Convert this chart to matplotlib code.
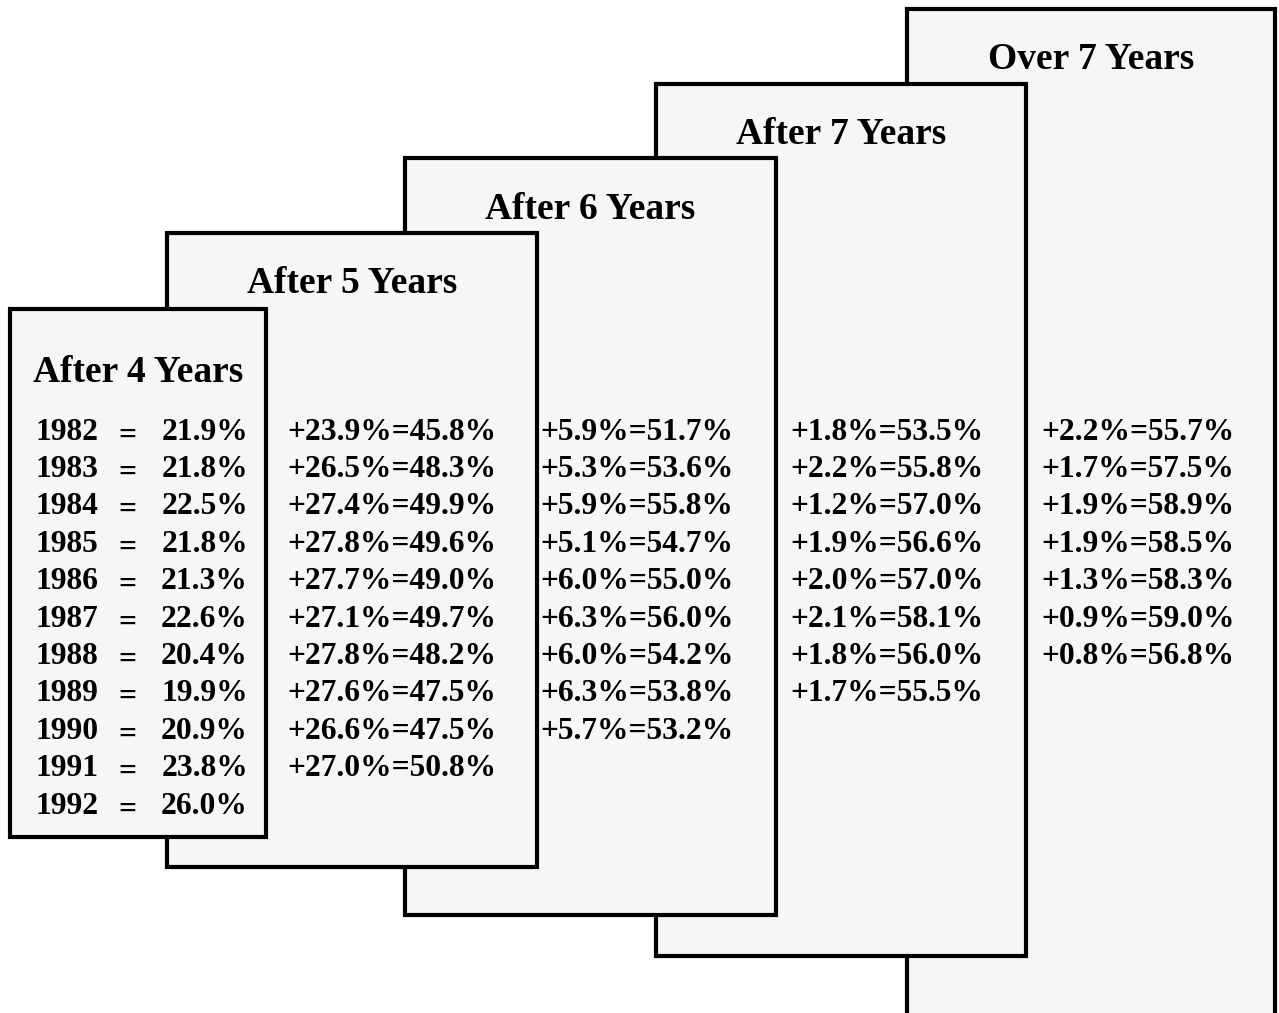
import matplotlib.pyplot as plt
import matplotlib.patches as mpatches

plt.rcParams["font.family"] = ["Liberation Serif", "DejaVu Serif"]
plt.rcParams["font.weight"] = "bold"

titles = ["After 4 Years", "After 5 Years", "After 6 Years", "After 7 Years", "Over 7 Years"]
years = [1982, 1983, 1984, 1985, 1986, 1987, 1988, 1989, 1990, 1991, 1992]
after4 = [21.9, 21.8, 22.5, 21.8, 21.3, 22.6, 20.4, 19.9, 20.9, 23.8, 26.0]
inc5 = [23.9, 26.5, 27.4, 27.8, 27.7, 27.1, 27.8, 27.6, 26.6, 27.0]
cum5 = [45.8, 48.3, 49.9, 49.6, 49.0, 49.7, 48.2, 47.5, 47.5, 50.8]
inc6 = [5.9, 5.3, 5.9, 5.1, 6.0, 6.3, 6.0, 6.3, 5.7]
cum6 = [51.7, 53.6, 55.8, 54.7, 55.0, 56.0, 54.2, 53.8, 53.2]
inc7 = [1.8, 2.2, 1.2, 1.9, 2.0, 2.1, 1.8, 1.7]
cum7 = [53.5, 55.8, 57.0, 56.6, 57.0, 58.1, 56.0, 55.5]
inc8 = [2.2, 1.7, 1.9, 1.9, 1.3, 0.9, 0.8]
cum8 = [55.7, 57.5, 58.9, 58.5, 58.3, 59.0, 56.8]

# box layout in pixel units: (left, top, right, bottom), front box first
boxes = [(10, 309, 266, 837), (167, 233, 537, 867), (405, 158, 776, 915),
         (656, 84, 1026, 956), (907, 9, 1275, 1030)]
title_y = [372, 283, 209, 134, 59]
col_x = [None, 287, 540, 790, 1041]
row0, row_step = 432, 37.4
fs = 22.7
title_fs = 27

fig = plt.figure(figsize=(12.79, 10.13), dpi=100)
ax = fig.add_axes([0, 0, 1, 1])
ax.set_xlim(0, 1279)
ax.set_ylim(1013, 0)
ax.axis("off")

for i in range(len(boxes) - 1, -1, -1):
    l, t, r, b = boxes[i]
    ax.add_patch(mpatches.Rectangle((l, t), r - l, b - t, facecolor="#f6f6f6",
                                    edgecolor="black", linewidth=3, zorder=10 - i))
    ax.text((l + r) / 2, title_y[i], titles[i], ha="center", va="center",
            fontsize=title_fs, fontweight="bold", zorder=20)

for k, (yr, v) in enumerate(zip(years, after4)):
    y = row0 + k * row_step
    ax.text(36, y, str(yr), ha="left", va="center", fontsize=fs, fontweight="bold", zorder=20)
    ax.text(127, y + 4, "=", ha="center", va="center", fontsize=fs, fontweight="bold", zorder=20)
    ax.text(248, y, f"{v:.1f}%", ha="right", va="center", fontsize=fs, fontweight="bold", zorder=20)

for c, (inc, cum) in enumerate([(inc5, cum5), (inc6, cum6), (inc7, cum7), (inc8, cum8)], start=1):
    for k, (a, s) in enumerate(zip(inc, cum)):
        ax.text(col_x[c], row0 + k * row_step, f"+{a:.1f}%={s:.1f}%", ha="left", va="center",
                fontsize=fs, fontweight="bold", zorder=20)

fig.savefig("out.png", dpi=100)
